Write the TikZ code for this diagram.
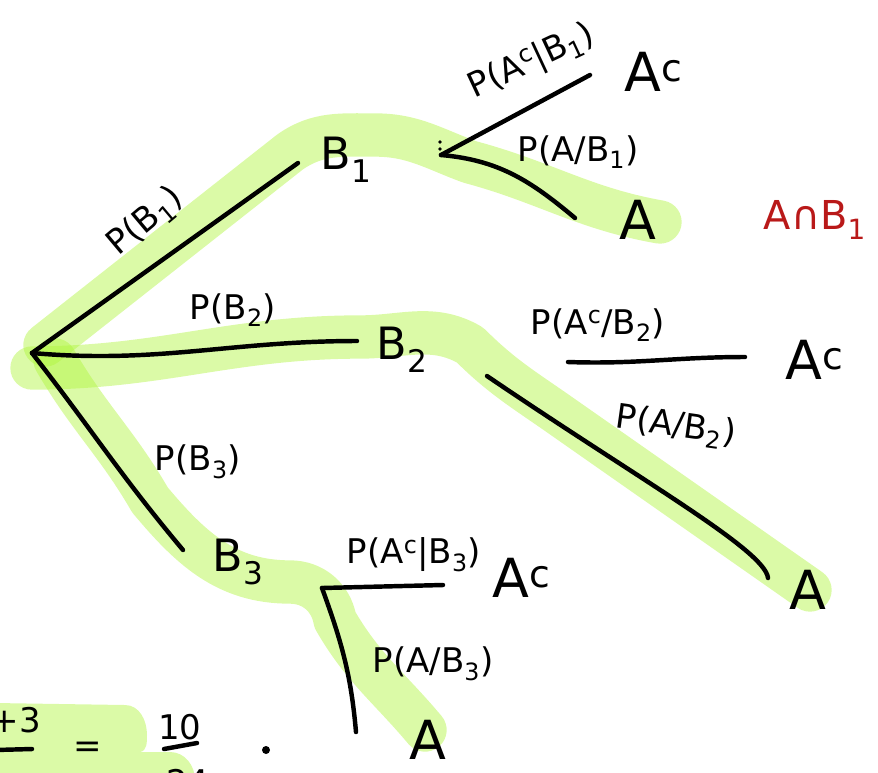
\documentclass[tikz,border=0pt]{standalone}
\usepackage{fontspec}
\setmainfont{DejaVu Sans}
\usetikzlibrary{positioning}
\definecolor{hlG}{RGB}{175,245,60}
\definecolor{redInk}{RGB}{185,25,25}
\tikzset{
  hl/.style={draw=hlG, opacity=0.45, line width=1.3cm, line cap=round, line join=round},
  hlfill/.style={fill=hlG, opacity=0.45},
  pen/.style={line width=3.8pt, line cap=round},
  lbl/.style={font=\fontsize{29}{33}\selectfont, inner sep=1pt},
  mid/.style={font=\fontsize{38}{42}\selectfont, inner sep=1pt},
  big/.style={font=\fontsize{46}{50}\selectfont, inner sep=1pt}
}

\begin{document}
\begin{tikzpicture}[x=0.03cm, y=-0.03cm]
  \useasboundingbox (0,0) rectangle (878,772);
  % highlighter strokes
  \draw[hl] (45,345) -- (290,152) to[out=35,in=180] (375,135) to[out=0,in=160] (470,162) to[out=-15,in=170] (660,222);
  \draw[hl] (32,368) to[out=0,in=180] (360,337) to[out=0,in=150] (470,345) to[out=-45,in=145] (560,415) -- (810,590);
  \draw[hl] (55,360) to[out=-60,in=120] (150,500) to[out=-50,in=180] (290,582) to[out=0,in=100] (335,620) to[out=-60,in=130] (425,730);
  \fill[hlfill] (-5,703) -- (125,705) to[out=0,in=90] (147,735) to[out=-90,in=10] (140,752) -- (170,752) to[out=0,in=90] (195,780) -- (-5,780) -- cycle;

  % tree
  \coordinate (r) at (32,353);
  \coordinate (b1e) at (298,163);
  \coordinate (b2e) at (357,341);
  \coordinate (b3e) at (183,550);
  \node[mid] (b1) at (346,160) {B\textsubscript{1}};
  \node[mid] (b2) at (402,350) {B\textsubscript{2}};
  \node[mid] (b3) at (238,562) {B\textsubscript{3}};
  \draw[pen] (r) -- (b1e);
  \draw[pen] (r) to[out=-5,in=180] (b2e);
  \draw[pen] (r) to[out=-52,in=130] (b3e);
  \node[lbl, rotate=40] (pb1) at (146,222) {P(B\textsubscript{1})};
  \node[lbl] (pb2) at (233,310) {P(B\textsubscript{2})};
  \node[lbl] (pb3) at (198,462) {P(B\textsubscript{3})};

  % B1 branch
  \coordinate (s1) at (441,155);
  \fill (440,142) circle (1.8) (440,149) circle (1.8);
  \coordinate (ac1e) at (590,75);
  \coordinate (a1e) at (575,218);
  \draw[pen] (s1) -- (ac1e);
  \draw[pen] (s1) to[out=-5,in=140] (a1e);
  \node[lbl, rotate=25] (pac1) at (532,62) {P(A\textsuperscript{c}|B\textsubscript{1})};
  \node[big] (ac1) at (654,72) {A\textsuperscript{c}};
  \node[lbl] (pa1) at (578,152) {P(A/B\textsubscript{1})};
  \node[big] (a1) at (638,220) {A};
  \node[font=\fontsize{34}{38}\selectfont, text=redInk] (ab1) at (815,220) {A∩B\textsubscript{1}};

  % B2 branch
  \coordinate (ac2s) at (568,362);
  \coordinate (ac2e) at (745,357);
  \coordinate (a2s) at (487,376);
  \coordinate (a2e) at (768,578);
  \draw[pen] (ac2s) to[out=-2,in=180] (ac2e);
  \draw[pen] (a2s) .. controls (640,480) and (765,550) .. (a2e);
  \node[lbl] (pac2) at (598,325) {P(A\textsuperscript{c}/B\textsubscript{2})};
  \node[big] (ac2) at (815,360) {A\textsuperscript{c}};
  \node[lbl, rotate=-8] (pa2) at (676,427) {P(A/B\textsubscript{2})};
  \node[big] (a2) at (808,590) {A};

  % B3 branch
  \coordinate (s3) at (322,588);
  \coordinate (ac3e) at (443,585);
  \coordinate (a3e) at (356,732);
  \draw[pen] (s3) -- (ac3e);
  \draw[pen] (s3) to[out=-70,in=95] (a3e);
  \node[lbl] (pac3) at (414,555) {P(A\textsuperscript{c}|B\textsubscript{3})};
  \node[big] (ac3) at (522,578) {A\textsuperscript{c}};
  \node[lbl] (pa3) at (433,664) {P(A/B\textsubscript{3})};
  \node[big] (a3) at (428,740) {A};

  % bottom fragment
  \node[lbl] (num1) at (16,720) {+3};
  \coordinate (bar1s) at (-5,750);
  \coordinate (bar1e) at (32,749);
  \draw[pen] (bar1s) -- (bar1e);
  \node[lbl] (eq) at (88,750) {=};
  \node[lbl] (num2) at (180,727) {10};
  \coordinate (bar2s) at (164,749);
  \coordinate (bar2e) at (197,743);
  \draw[pen] (bar2s) -- (bar2e);
  \node[lbl] (den2) at (188,782) {24};
  \fill (266,750) circle (4);
\end{tikzpicture}
\end{document}
